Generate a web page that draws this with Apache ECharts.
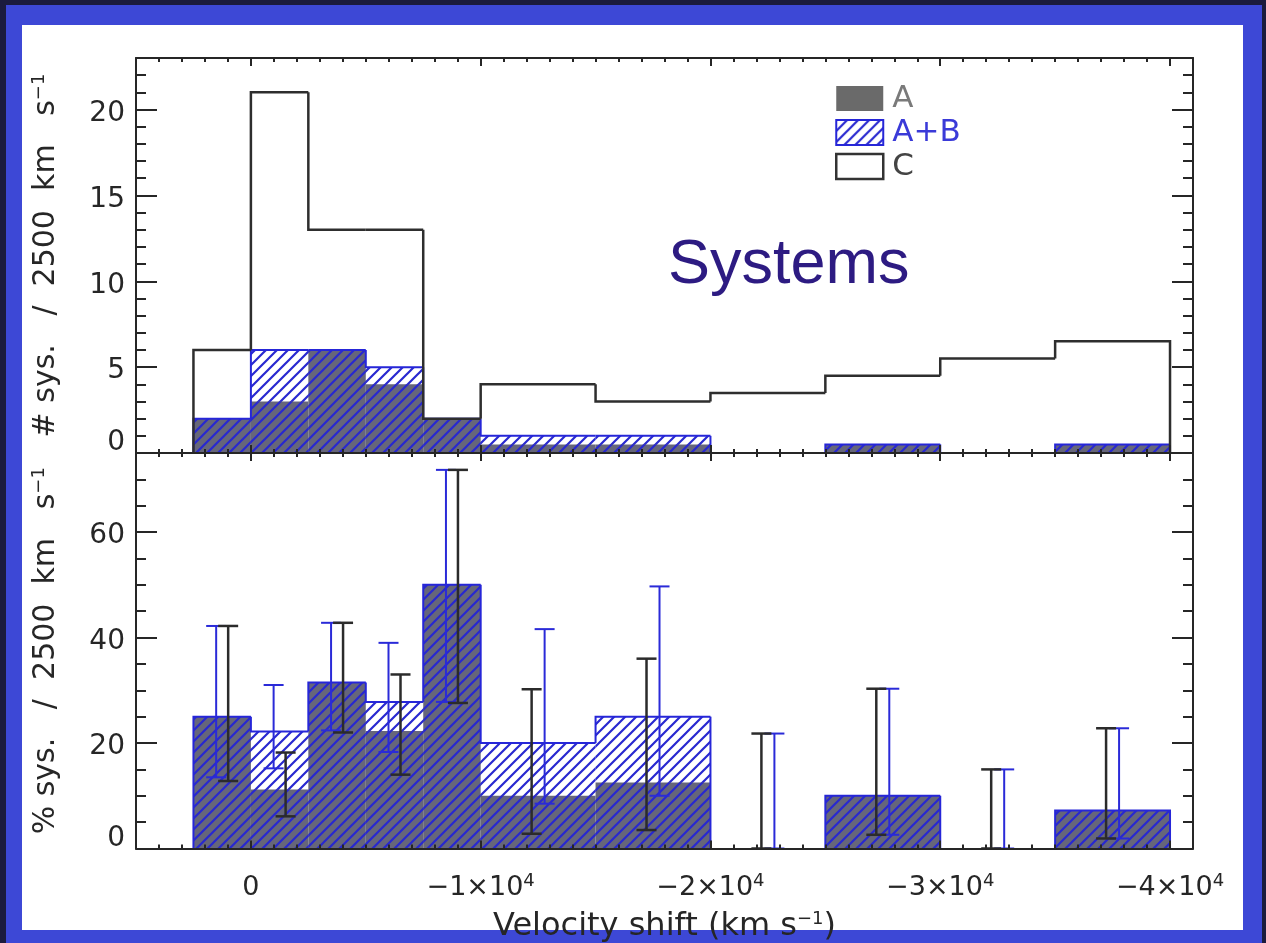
<!DOCTYPE html>
<html>
<head>
<meta charset="utf-8">
<script src="https://cdn.jsdelivr.net/npm/echarts@6/dist/echarts.min.js"></script>
<style>
html, body { margin: 0; padding: 0; width: 1266px; height: 943px; overflow: hidden; background: #1b1b3d; }
#frame { position: absolute; left: 6px; top: 5px; right: 4px; bottom: 0; background: #3d48d6; }
#paper { position: absolute; left: 22px; top: 25px; width: 1221px; height: 905px; background: #fff; }
#chart { position: absolute; left: 0; top: 0; width: 1266px; height: 943px; }
</style>
</head>
<body>
<div id="frame"></div>
<div id="paper"></div>
<div id="chart"></div>
<script>
// bin edges in km/s (velocity shift runs from +2500 down to -40000)
var binEdges = [2500, 0, -2500, -5000, -7500, -10000, -15000, -20000, -25000, -30000, -35000, -40000];

// top panel: # sys. / 2500 km/s
var numA  = [2, 3, 6, 4, 2, 0.5, 0.5, 0, 0.5, 0, 0.5];
var numAB = [2, 6, 6, 5, 2, 1, 1, 0, 0.5, 0, 0.5];
var numC  = [6, 21, 13, 13, 2, 4, 3, 3.5, 4.5, 5.5, 6.5];

// bottom panel: % sys. / 2500 km/s
var pctA  = [25, 11.2, 31.5, 22.3, 50, 10, 12.5, 0, 10, 0, 7.2];
var pctAB = [25, 22.2, 31.5, 27.8, 50, 20, 25, 0, 10, 0, 7.2];

// error bars (low / high) of the percentages
var errLoA  = [12.8, 6.1, 22.0, 14.0, 27.6, 2.8, 3.5, 0, 2.6, 0, 1.9];
var errHiA  = [42.2, 18.2, 42.8, 33.0, 71.8, 30.2, 36.0, 21.8, 30.3, 15.0, 22.8];
var errLoAB = [13.5, 15.2, 22.4, 18.3, 27.8, 8.5, 10.0, 0, 2.6, 0, 1.9];
var errHiAB = [42.2, 31.0, 42.8, 39.0, 71.8, 41.6, 49.7, 21.8, 30.3, 15.0, 22.8];

var FONT = '"Liberation Sans", Arial, Helvetica, sans-serif';
var WIDE = '"DejaVu Sans", Verdana, sans-serif';
var INK = '#262626';
var GRAY = '#66667a';
var BLUE = '#2626d8';

// hatch pattern "/" in blue
var tile = document.createElement('canvas');
tile.width = 11; tile.height = 11;
var tc = tile.getContext('2d');
tc.strokeStyle = '#2828d0';
tc.lineWidth = 2.2;
tc.beginPath();
tc.moveTo(0, 11); tc.lineTo(11, 0);
tc.moveTo(-2, 2); tc.lineTo(2, -2);
tc.moveTo(9, 13); tc.lineTo(13, 9);
tc.stroke();
var hatch = { image: tile, repeat: 'repeat' };

function binData(vals) {
    return vals.map(function (v, i) { return [binEdges[i], binEdges[i + 1], v]; });
}
function stepData(vals) {
    return vals.map(function (v, i) {
        return [binEdges[i], binEdges[i + 1], v, i > 0 ? vals[i - 1] : 0, i === vals.length - 1 ? 1 : 0];
    });
}
function errData(lo, hi) {
    return lo.map(function (v, i) { return [binEdges[i], binEdges[i + 1], v, hi[i]]; });
}

function renderBars(withGray) {
    return function (params, api) {
        var v = api.value(2);
        if (!v) return;
        var p0 = api.coord([api.value(0), v]);
        var p1 = api.coord([api.value(1), 0]);
        var shape = { x: p0[0], y: p0[1], width: p1[0] - p0[0], height: p1[1] - p0[1] };
        var kids = [];
        if (withGray) kids.push({ type: 'rect', shape: shape, style: { fill: GRAY } });
        kids.push({ type: 'rect', shape: shape, style: { fill: hatch } });
        return { type: 'group', children: kids };
    };
}

function renderStep(color, width) {
    return function (params, api) {
        var l = api.value(0), r = api.value(1), v = api.value(2), prev = api.value(3), last = api.value(4);
        var pts = [api.coord([l, prev]), api.coord([l, v])];
        if (v > 0) {
            pts.push(api.coord([r, v]));
            if (last) pts.push(api.coord([r, 0]));
        }
        return { type: 'polyline', shape: { points: pts }, style: { fill: null, stroke: color, lineWidth: width } };
    };
}

function renderErr(color, width, dir) {
    return function (params, api) {
        var l = api.value(0), r = api.value(1);
        var mid = (l + r) / 2;
        var wide = Math.abs(l - r) > 3000;
        var shift = dir * (wide ? -6.5 : 6);
        var pLo = api.coord([mid, api.value(2)]);
        var pHi = api.coord([mid, api.value(3)]);
        var x = pLo[0] + shift;
        var st = { stroke: color, lineWidth: width };
        return {
            type: 'group',
            children: [
                { type: 'line', shape: { x1: x, y1: pLo[1], x2: x, y2: pHi[1] }, style: st },
                { type: 'line', shape: { x1: x - 10, y1: pHi[1], x2: x + 10, y2: pHi[1] }, style: st },
                { type: 'line', shape: { x1: x - 10, y1: pLo[1], x2: x + 10, y2: pLo[1] }, style: st }
            ]
        };
    };
}

var supRich = {
    s: { fontSize: 18, fontFamily: WIDE, color: INK, verticalAlign: 'top', lineHeight: 14 }
};

function xFormatter(v) {
    if (v === 0) return '{b|0}';
    if (v < 0 && v % 10000 === 0) return '{b|\u2212' + (-v / 10000) + '\u00d710}{s|4}';
    return '';
}

function yFormatter(step) {
    return function (v) {
        if (v % step !== 0) return '';
        if (v === 0) return '{z|0}';
        return '{n|' + v + '}';
    };
}

function xAxes(g, labels) {
    var base = { gridIndex: g, type: 'value', min: -41000, max: 5000, inverse: true, z: 5, splitLine: { show: false } };
    function mk(pos, major) {
        var a = Object.assign({}, base, {
            position: pos,
            axisLine: { show: major, onZero: false, lineStyle: { color: INK, width: 2 } },
            axisTick: { show: true, inside: true, length: major ? 8 : 4, lineStyle: { color: INK, width: 2 } },
            axisLabel: { show: false }
        });
        if (major) {
            a.splitNumber = 5;
        } else {
            a.interval = 1000;
        }
        if (major && pos === 'bottom' && labels) {
            a.axisLabel = {
                show: true, margin: 24, formatter: xFormatter,
                rich: { b: { fontSize: 27, fontFamily: WIDE, color: INK, lineHeight: 30 }, s: supRich.s }
            };
            a.name = 'Velocity shift (km s{s|\u22121})';
            a.nameLocation = 'middle';
            a.nameGap = 62;
            a.nameTextStyle = { fontSize: 32, fontFamily: WIDE, color: INK, lineHeight: 32, rich: supRich };
        }
        return a;
    }
    return [mk('bottom', true), mk('bottom', false), mk('top', true), mk('top', false)];
}

function yAxes(g, max, step, minor, name) {
    var base = { gridIndex: g, type: 'value', min: 0, max: max, z: 5, splitLine: { show: false } };
    function mk(pos, major) {
        var a = Object.assign({}, base, {
            position: pos,
            interval: major ? step : minor,
            axisLine: { show: major, onZero: false, lineStyle: { color: INK, width: 2 } },
            axisTick: { show: true, inside: true, length: major ? 21 : 10, lineStyle: { color: INK, width: 2 } },
            axisLabel: { show: false }
        });
        if (major && pos === 'left') {
            a.axisLabel = {
                show: true, margin: 11, formatter: yFormatter(step),
                rich: {
                    n: { fontSize: 28, fontFamily: WIDE, color: INK, padding: [8, 0, 0, 0] },
                    z: { fontSize: 28, fontFamily: WIDE, color: INK, padding: [0, 0, 20, 0] }
                }
            };
            a.name = name;
            a.nameLocation = 'middle';
            a.nameGap = 74;
            a.nameTextStyle = { fontSize: 30, fontFamily: WIDE, color: INK, lineHeight: 32, rich: supRich };
        }
        return a;
    }
    return [mk('left', true), mk('left', false), mk('right', true), mk('right', false)];
}

var chart = echarts.init(document.getElementById('chart'), null, { renderer: 'canvas' });

var option = {
    animation: false,
    backgroundColor: 'transparent',
    grid: [
        { left: 136, right: 73, top: 58, height: 395, outerBoundsMode: 'none' },
        { left: 136, right: 73, top: 453, height: 395.5, outerBoundsMode: 'none' }
    ],
    xAxis: xAxes(0, false).concat(xAxes(1, true)),
    yAxis: yAxes(0, 23, 5, 1, '# sys.   /  2500  km   s{s|\u22121}')
        .concat(yAxes(1, 75, 20, 5, '% sys.   /  2500  km   s{s|\u22121}')),
    legend: {
        orient: 'vertical', left: 835, top: 83, padding: 0,
        itemWidth: 47, itemHeight: 25, itemGap: 3, selectedMode: false,
        textStyle: { fontSize: 31, fontFamily: WIDE, lineHeight: 26, padding: [0, 0, 0, 4] },
        data: [
            { name: 'A', icon: 'rect', itemStyle: { color: '#6a6a6a', borderWidth: 0 }, textStyle: { color: '#7a7a7a' } },
            { name: 'A+B', icon: 'rect', itemStyle: { color: hatch, borderColor: BLUE, borderWidth: 2 }, textStyle: { color: '#3a3ad8' } },
            { name: 'C', icon: 'rect', itemStyle: { color: '#fff', borderColor: '#333', borderWidth: 2.5 }, textStyle: { color: '#444' } }
        ]
    },
    graphic: [{
        type: 'text', x: 668, y: 266, z: 10,
        style: { text: 'Systems', fontSize: 63, fontFamily: FONT, fill: '#2d1b82', align: 'left', verticalAlign: 'middle' }
    }],
    series: [
        // top panel
        { name: 'A+B', type: 'custom', xAxisIndex: 0, yAxisIndex: 0, renderItem: renderBars(false), data: binData(numAB) },
        { name: 'A', type: 'custom', xAxisIndex: 0, yAxisIndex: 0, renderItem: renderBars(true), data: binData(numA) },
        { name: 'A+B', type: 'custom', xAxisIndex: 0, yAxisIndex: 0, renderItem: renderStep(BLUE, 2), data: stepData(numAB) },
        { name: 'C', type: 'custom', xAxisIndex: 0, yAxisIndex: 0, renderItem: renderStep('#2e2e2e', 2.5), data: stepData(numC) },
        // bottom panel
        { name: 'A+B', type: 'custom', xAxisIndex: 4, yAxisIndex: 4, renderItem: renderBars(false), data: binData(pctAB) },
        { name: 'A', type: 'custom', xAxisIndex: 4, yAxisIndex: 4, renderItem: renderBars(true), data: binData(pctA) },
        { name: 'A+B', type: 'custom', xAxisIndex: 4, yAxisIndex: 4, renderItem: renderStep(BLUE, 2), data: stepData(pctAB) },
        { name: 'A+B', type: 'custom', xAxisIndex: 4, yAxisIndex: 4, renderItem: renderErr('#2a2ad8', 2, -1), data: errData(errLoAB, errHiAB) },
        { name: 'A', type: 'custom', xAxisIndex: 4, yAxisIndex: 4, renderItem: renderErr('#2b2b2b', 2.5, 1), data: errData(errLoA, errHiA) }
    ]
};

chart.setOption(option);
</script>
</body>
</html>
